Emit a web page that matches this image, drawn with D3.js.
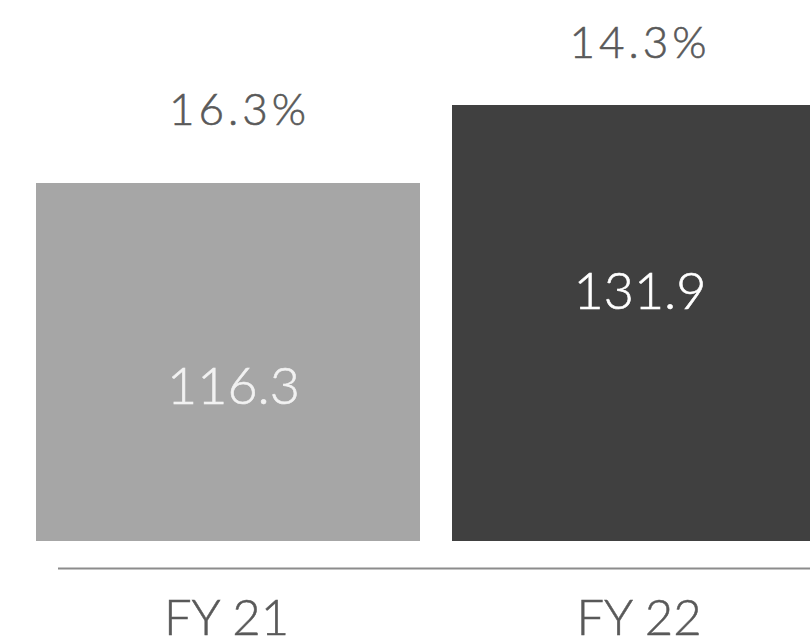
<!DOCTYPE html>
<html>
<head>
<meta charset="utf-8">
<script src="https://cdn.jsdelivr.net/npm/d3@7"></script>
<style>
  html, body { margin: 0; padding: 0; background: #ffffff; }
  svg { display: block; font-family: Lato, "Open Sans", sans-serif; font-weight: 300; }
</style>
</head>
<body>
<svg id="chart" width="810" height="644"></svg>
<script>
// ---- data ----
const categories = ["FY 21", "FY 22"];
const values = [116.3, 131.9];
const valueLabels = ["116.3", "131.9"];
const growthLabels = ["16.3%", "14.3%"];

// ---- styling ----
const barColors = ["#a6a6a6", "#404040"];
const valueLabelColors = ["#f2f2f2", "#ffffff"];
const textColor = "#595959";
const axisColor = "#8c8c8c";

const svg = d3.select("#chart");

const x = d3.scaleBand()
  .domain(categories)
  .range([36, 836])
  .paddingInner(32 / 416)
  .paddingOuter(0);

const y = d3.scaleLinear()
  .domain([44.7, 131.9])
  .range([541, 105]);

const bars = categories.map((c, i) => ({ c, v: values[i], i }));

// bars (second bar runs off the right edge as in the reference)
svg.selectAll("rect.bar")
  .data(bars)
  .join("rect")
  .attr("class", "bar")
  .attr("x", d => x(d.c))
  .attr("width", d => Math.min(x.bandwidth(), 810 - x(d.c) + 0.5))
  .attr("y", d => y(d.v))
  .attr("height", d => y.range()[0] - y(d.v))
  .attr("fill", d => barColors[d.i]);

// baseline axis line
const axisY = 568.5;
svg.append("line")
  .attr("x1", 58).attr("x2", 810)
  .attr("y1", axisY).attr("y2", axisY)
  .attr("stroke", axisColor)
  .attr("stroke-width", 2);

// label horizontal nudges relative to band centre
const valueDx = [5.5, -4];
const growthDx = [11.5, -4];
const catDx = [-1.5, -5];

// value labels inside bars
const valueFrac = [0.62, 0.69];
svg.selectAll("text.val")
  .data(bars)
  .join("text")
  .attr("class", "val")
  .attr("x", d => x(d.c) + x.bandwidth() / 2 + valueDx[d.i])
  .attr("y", d => y(d.v * valueFrac[d.i]))
  .attr("text-anchor", "middle")
  .attr("font-size", 52)
  .attr("fill", d => valueLabelColors[d.i])
  .attr("stroke", d => valueLabelColors[d.i])
  .attr("stroke-width", 0.6)
  .text(d => valueLabels[d.i]);

// growth labels above bars
const growthOffset = [58, 47];
svg.selectAll("text.growth")
  .data(bars)
  .join("text")
  .attr("class", "growth")
  .attr("x", d => x(d.c) + x.bandwidth() / 2 + growthDx[d.i])
  .attr("y", d => y(d.v) - growthOffset[d.i])
  .attr("text-anchor", "middle")
  .attr("font-size", 44)
  .attr("letter-spacing", 4)
  .attr("fill", textColor)
  .attr("stroke", textColor)
  .attr("stroke-width", 0.6)
  .text(d => growthLabels[d.i]);

// category labels
svg.selectAll("text.cat")
  .data(bars)
  .join("text")
  .attr("class", "cat")
  .attr("x", d => x(d.c) + x.bandwidth() / 2 + catDx[d.i])
  .attr("y", 635)
  .attr("text-anchor", "middle")
  .attr("font-size", 49)
  .attr("fill", textColor)
  .attr("stroke", textColor)
  .attr("stroke-width", 0.5)
  .text(d => d.c);
</script>
</body>
</html>
